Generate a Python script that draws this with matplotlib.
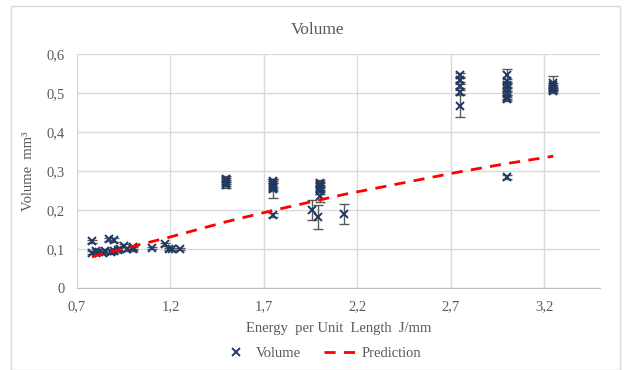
import matplotlib.pyplot as plt
from matplotlib.patches import Rectangle

# measured points: energy per unit length (J/mm), volume (mm3), error bar half-height
energy = [0.78, 0.78, 0.80, 0.82, 0.84, 0.85, 0.87, 0.88, 0.90, 0.90, 0.92, 0.93,
          0.95, 0.97, 1.00, 1.00, 1.10, 1.17, 1.19, 1.21, 1.25,
          1.50, 1.50, 1.50, 1.50,
          1.75, 1.75, 1.75, 1.75, 1.75, 1.75,
          1.96, 1.99,
          2.00, 2.00, 2.00, 2.00, 2.00, 2.00,
          2.13,
          2.75, 2.75, 2.75, 2.75, 2.75,
          3.00, 3.00, 3.00, 3.00, 3.00, 3.00, 3.00, 3.00,
          3.25, 3.25, 3.25, 3.25, 3.25]
volume = [0.120, 0.090, 0.095, 0.092, 0.090, 0.095, 0.125, 0.092, 0.123, 0.095, 0.098, 0.100,
          0.108, 0.100, 0.100, 0.105, 0.102, 0.112, 0.100, 0.100, 0.100,
          0.265, 0.270, 0.275, 0.280,
          0.255, 0.260, 0.265, 0.270, 0.275, 0.187,
          0.200, 0.182,
          0.270, 0.265, 0.260, 0.255, 0.250, 0.235,
          0.190,
          0.546, 0.533, 0.518, 0.503, 0.467,
          0.545, 0.530, 0.520, 0.510, 0.500, 0.490, 0.485, 0.285,
          0.525, 0.520, 0.515, 0.510, 0.505]
volume_err = [0.004, 0.004, 0.004, 0.004, 0.004, 0.004, 0.004, 0.004, 0.004, 0.004, 0.004, 0.004,
              0.004, 0.004, 0.004, 0.004, 0.003, 0.003, 0.003, 0.003, 0.003,
              0.008, 0.008, 0.008, 0.008,
              0.025, 0.010, 0.010, 0.010, 0.005, 0.005,
              0.026, 0.030,
              0.008, 0.008, 0.008, 0.008, 0.010, 0.015,
              0.025,
              0.006, 0.006, 0.006, 0.006, 0.028,
              0.017, 0.006, 0.006, 0.006, 0.006, 0.006, 0.006, 0.005,
              0.018, 0.006, 0.006, 0.006, 0.006]

# model prediction
pred_energy = [0.78, 0.85, 0.90, 0.95, 1.00, 1.10, 1.20, 1.50, 1.75, 2.00, 2.13, 2.75, 3.00, 3.25]
pred_volume = [0.080, 0.089, 0.095, 0.101, 0.107, 0.119, 0.131, 0.170, 0.199, 0.226, 0.240, 0.298, 0.319, 0.338]

serif = ['Liberation Serif', 'DejaVu Serif']
grey = '#595959'

fig = plt.figure(figsize=(6.24, 3.70), dpi=100)
ax = fig.add_axes([0.1234, 0.2216, 0.9615 - 0.1234, 0.854 - 0.2216])

# chart border
fig.patches.append(Rectangle((11 / 624, 0.0), 609 / 624, 1 - 6 / 370, transform=fig.transFigure,
                             fill=False, edgecolor='#D9D9D9', linewidth=1))

ax.errorbar(energy, volume, yerr=volume_err, fmt='none', ecolor=grey, elinewidth=1,
            capsize=3.5, capthick=1, zorder=2)
ax.plot(energy, volume, 'x', color='#203864', markersize=5.5, mew=1.4, zorder=3, label='Volume')
ax.plot(pred_energy, pred_volume, '--', color='#FF0000', linewidth=2, dashes=(4, 3),
        zorder=4, label='Prediction')

ax.set_xlim(0.7, 3.5)
ax.set_ylim(0, 0.6)
ax.set_xticks([0.7, 1.2, 1.7, 2.2, 2.7, 3.2])
ax.set_xticklabels(['0,7', '1,2', '1,7', '2,2', '2,7', '3,2'])
ax.set_yticks([0, 0.1, 0.2, 0.3, 0.4, 0.5, 0.6])
ax.set_yticklabels(['0', '0,1', '0,2', '0,3', '0,4', '0,5', '0,6'])
ax.grid(True, color='#D9D9D9', linewidth=1)
ax.set_axisbelow(True)
for side in ['top', 'right', 'left']:
    ax.spines[side].set_visible(False)
ax.spines['bottom'].set_color('#BFBFBF')
ax.tick_params(length=0, labelsize=10.5, labelcolor=grey, pad=9)
for lab in ax.get_xticklabels() + ax.get_yticklabels():
    lab.set_family(serif)

ax.set_xlabel('Energy  per Unit  Length  J/mm', family=serif, fontsize=10.5, color=grey, labelpad=6)
ax.set_ylabel('Volume  mm³', family=serif, fontsize=10.5, color=grey, labelpad=8)
fig.text(318 / 624, 1 - 30 / 370, 'Volume', family=serif, fontsize=12.5, color=grey,
         ha='center', va='center')

leg = fig.legend(loc='center', bbox_to_anchor=(320 / 624, 1 - 353 / 370), ncol=2, frameon=False,
                 prop={'family': serif, 'size': 10.5}, handlelength=2.3, handletextpad=0.25,
                 columnspacing=1.6)
for t in leg.get_texts():
    t.set_color(grey)

fig.savefig('out.png', dpi=100)
